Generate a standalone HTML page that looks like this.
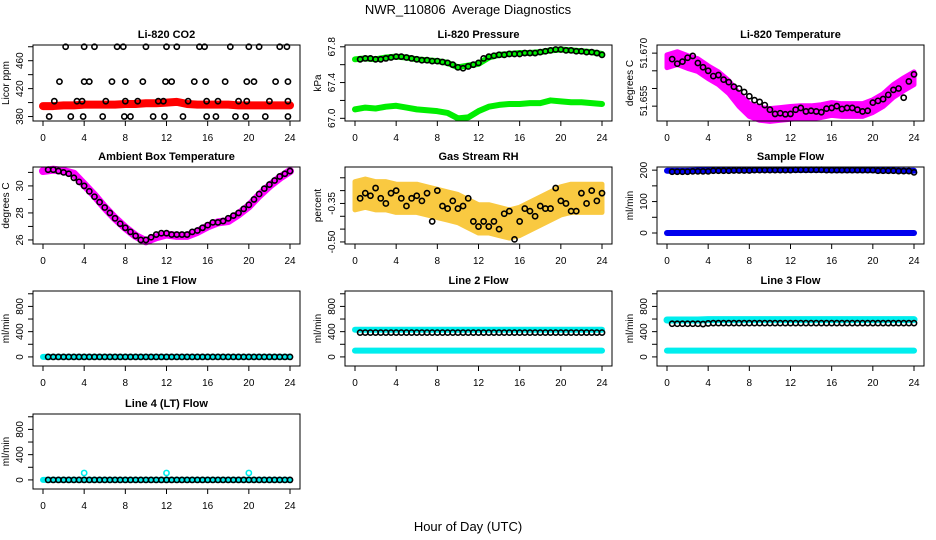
<!DOCTYPE html>
<html><head><meta charset="utf-8">
<style>
body{margin:0;background:#fff;}
svg{display:block;font-family:"Liberation Sans",sans-serif;}
</style></head>
<body>
<svg id="chart" width="936" height="540" xmlns="http://www.w3.org/2000/svg">
<rect width="936" height="540" fill="#fff"/>
<text x="468" y="14" font-size="13" text-anchor="middle" style="white-space:pre">NWR_110806  Average Diagnostics</text>
<text x="468" y="531" font-size="13" text-anchor="middle">Hour of Day (UTC)</text>
</svg>
<script>
// ---- data ----
const hours = [0,1,2,3,4,5,6,7,8,9,10,11,12,13,14,15,16,17,18,19,20,21,22,23,24];
const xTicks = [0,4,8,12,16,20,24];
// CO2
const co2Band = [395,395,396,396,397,397,397,397,398,398,399,399,400,401,398,397,397,397,397,396,396,396,396,396,396];
const co2BlackT = [2.2,4,5,7.2,7.8,10,12,13,15.2,15.7,18.2,20,21,23,23.7, 1.6,4,4.5,6.7,8,9.7,11.9,12.5,14.7,15.8,17.7,19.8,20.5,22.6,23.8, 1.1,3.3,3.8,6.1,8,9.2,11.2,11.7,14.1,15.9,17,19,19.8,22,23.8, 0.6,2.7,3.9,5.8,7.9,8.5,10.7,11.8,13.6,15.9,16.8,18.7,19.7,21.6,23.8];
const co2BlackV = [480,480,480,480,480,480,480,480,480,480,480,480,480,480,480, 430,430,430,430,430,430,430,430,430,430,430,430,430,430,430, 402,402,402,402,402,402,402,402,402,402,402,402,402,402,402, 380,380,380,380,380,380,380,380,380,380,380,380,380,380,380];
// Pressure
const presUpper = [67.66,67.67,67.66,67.68,67.69,67.68,67.66,67.65,67.64,67.62,67.57,67.59,67.61,67.68,67.71,67.72,67.73,67.73,67.74,67.76,67.77,67.76,67.75,67.74,67.72];
const presLower = [67.10,67.12,67.11,67.13,67.14,67.12,67.10,67.09,67.08,67.06,67.00,67.01,67.08,67.13,67.15,67.16,67.16,67.17,67.17,67.20,67.19,67.18,67.18,67.17,67.16];
const presBlack = [67.66,67.67,67.67,67.66,67.66,67.67,67.68,67.69,67.69,67.68,67.67,67.66,67.65,67.65,67.64,67.64,67.63,67.62,67.60,67.57,67.56,67.58,67.60,67.62,67.67,67.69,67.70,67.71,67.71,67.72,67.72,67.72,67.73,67.73,67.73,67.74,67.75,67.76,67.77,67.77,67.76,67.76,67.75,67.75,67.74,67.74,67.73,67.71];
// Li-820 temperature
const tempCenter = [51.6677,51.6686,51.6675,51.6666,51.6646,51.6629,51.6604,51.6567,51.6539,51.6528,51.6525,51.6528,51.6531,51.6533,51.6533,51.6536,51.6542,51.6539,51.6539,51.6539,51.6550,51.6567,51.6593,51.6612,51.6629];
const tempBlack = [51.6683,51.6670,51.6676,51.6687,51.6692,51.6672,51.6660,51.6650,51.6635,51.6638,51.6625,51.6618,51.6605,51.6600,51.6590,51.6578,51.6567,51.6562,51.6553,51.6540,51.6528,51.6530,51.6527,51.6528,51.6540,51.6545,51.6535,51.6537,51.6535,51.6533,51.6543,51.6545,51.6550,51.6542,51.6545,51.6545,51.6540,51.6535,51.6537,51.6560,51.6565,51.6570,51.6582,51.6596,51.6600,51.6574,51.6620,51.6640];
// Ambient box temperature
const ambBand = [31.1,31.2,31.1,30.9,30.1,29.3,28.4,27.6,26.9,26.3,25.9,26.2,26.4,26.3,26.3,26.6,27.0,27.3,27.4,27.9,28.5,29.3,30.0,30.6,31.1];
const ambBlack = [31.2,31.2,31.1,31.0,30.9,30.6,30.3,30.0,29.6,29.2,28.8,28.4,28.0,27.6,27.2,26.9,26.6,26.3,26.0,26.0,26.2,26.4,26.5,26.5,26.4,26.4,26.4,26.4,26.6,26.7,26.9,27.1,27.3,27.3,27.4,27.6,27.8,28.0,28.3,28.6,29.0,29.4,29.8,30.1,30.4,30.7,30.9,31.1];
// Gas stream RH
const rhCenter = [-0.32,-0.31,-0.32,-0.32,-0.33,-0.33,-0.33,-0.34,-0.35,-0.36,-0.37,-0.39,-0.41,-0.41,-0.42,-0.43,-0.42,-0.40,-0.38,-0.36,-0.34,-0.33,-0.33,-0.33,-0.33];
const rhBlack = [-0.33,-0.31,-0.32,-0.29,-0.33,-0.35,-0.31,-0.30,-0.33,-0.36,-0.33,-0.32,-0.34,-0.31,-0.42,-0.30,-0.36,-0.37,-0.34,-0.37,-0.36,-0.33,-0.42,-0.44,-0.42,-0.44,-0.42,-0.45,-0.39,-0.38,-0.49,-0.42,-0.37,-0.38,-0.40,-0.36,-0.37,-0.37,-0.29,-0.34,-0.35,-0.38,-0.38,-0.31,-0.35,-0.30,-0.34,-0.31];
// Flows
const sampleUpper = [198,198,198,199,199,200,200,200,200,201,201,201,201,201,201,201,200,200,200,200,200,199,199,198,198];
const sampleLower = [0,0,0,0,0,0,0,0,0,0,0,0,0,0,0,0,0,0,0,0,0,0,0,0,0];
const sampleBlack = [195,195,195,195,196,196,196,196,198,198,198,198,199,199,199,199,200,200,200,200,200,200,200,200,201,201,201,201,201,201,200,200,200,200,200,200,200,200,200,200,198,198,198,198,197,197,197,193];
const line1Cyan = [0,0,0,0,0,0,0,0,0,0,0,0,0,0,0,0,0,0,0,0,0,0,0,0,0];
const line1Black = [0,0,0,0,0,0,0,0,0,0,0,0,0,0,0,0,0,0,0,0,0,0,0,0,0,0,0,0,0,0,0,0,0,0,0,0,0,0,0,0,0,0,0,0,0,0,0,0];
const line2Upper = [430,430,430,430,430,430,430,430,430,430,430,430,430,430,430,430,430,430,430,430,430,430,430,430,430];
const line2Lower = [100,100,100,100,100,100,100,100,100,100,100,100,100,100,100,100,100,100,100,100,100,100,100,100,100];
const line2Black = [385,385,385,385,385,385,385,385,385,385,385,385,385,385,385,385,385,385,385,385,385,385,385,385,385,385,385,385,385,385,385,385,385,385,385,385,385,385,385,385,385,385,385,385,385,385,385,385];
const line3Upper = [585,585,585,585,590,590,590,590,590,590,590,590,590,590,590,590,590,590,590,590,590,590,590,590,590];
const line3Lower = [100,100,100,100,100,100,100,100,100,100,100,100,100,100,100,100,100,100,100,100,100,100,100,100,100];
const line3Black = [525,525,525,525,525,525,520,530,535,535,535,535,535,535,535,535,535,535,535,535,535,535,535,535,535,535,535,535,535,535,535,535,535,535,535,535,535,535,535,535,535,535,535,535,535,535,535,535];
const line4Cyan = [0,0,0,0,0,0,0,0,0,0,0,0,0,0,0,0,0,0,0,0,0,0,0,0,0];
const line4OutT = [4,12,20];
const line4OutV = [110,110,110];
const line4Black = [0,0,0,0,0,0,0,0,0,0,0,0,0,0,0,0,0,0,0,0,0,0,0,0,0,0,0,0,0,0,0,0,0,0,0,0,0,0,0,0,0,0,0,0,0,0,0,0];

// ---- drawing ----
const svg = document.getElementById('chart');
const NS = 'http://www.w3.org/2000/svg';
function mk(tag, attrs, parent){
  const e = document.createElementNS(NS, tag);
  for (const k in attrs) e.setAttribute(k, attrs[k]);
  (parent||svg).appendChild(e);
  return e;
}
const colL = [33,345,657], rowT = [45,167,291,414], PW = 267;
const rowH = [76,77,75,75];
function panel(cfg){
  const L = colL[cfg.col], T = rowT[cfg.row], H = rowH[cfg.row];
  const g = mk('g', {});
  
  
  const xs = t => L + 10 + t * (PW - 20) / 24;
  const ys = v => T + H - (v - cfg.ymin) / (cfg.ymax - cfg.ymin) * H;
  cfg.xs = xs; cfg.ys = ys; cfg.g = g;
  const tt = mk('text', {x: L + PW/2, y: T - 7, 'font-size': 11, 'font-weight': 'bold', 'text-anchor': 'middle'}, g);
  tt.textContent = cfg.title;
  
  
  cfg.draw(cfg);
  const box = mk('rect', {x: L, y: T, width: PW, height: H, fill: 'none', stroke: '#000', 'stroke-width': 1}, g);
  
  
  xTicks.forEach(t => {
    mk('line', {x1: xs(t), x2: xs(t), y1: T + H, y2: T + H + 5, stroke: '#000'}, g);
    const tx = mk('text', {x: xs(t), y: T + H + 20, 'font-size': 10, 'text-anchor': 'middle'}, g);
    tx.textContent = t;
    
    
  });
  cfg.yTicks.forEach(v => {
    mk('line', {x1: L, x2: L - 5, y1: ys(v), y2: ys(v), stroke: '#000'}, g);
  });
  cfg.yLabels.forEach((lab, i) => {
    const y = ys(cfg.yLabelVals[i]);
    const tx = mk('text', {x: 0, y: 0, 'font-size': 10, 'text-anchor': 'middle', transform: `translate(${L - 10},${y}) rotate(-90)`}, g);
    tx.textContent = lab;
    
    
  });
  const yt = mk('text', {x: 0, y: 0, 'font-size': 10, 'text-anchor': 'middle', transform: `translate(${L - 24},${T + H/2}) rotate(-90)`}, g);
  yt.textContent = cfg.ylab;
  
  
}
function band(cfg, vals, color, w){
  const pts = vals.map((v,i) => cfg.xs(hours[i]) + ',' + cfg.ys(v)).join(' ');
  const p = mk('polyline', {points: pts, fill: 'none', stroke: color, 'stroke-width': w, 'stroke-linecap': 'round', 'stroke-linejoin': 'round'}, cfg.g);
  
  
}
function cloud(cfg, vals, half, color, op){
  const up = vals.map((v,i) => cfg.xs(hours[i]) + ',' + cfg.ys(v + half));
  const dn = vals.map((v,i) => cfg.xs(hours[i]) + ',' + cfg.ys(v - half)).reverse();
  const p = mk('polygon', {points: up.concat(dn).join(' '), fill: color, stroke: color, 'stroke-width': 5, 'stroke-linejoin': 'round', opacity: op}, cfg.g);
  
  
}
function dots(cfg, ts, vals, color){
  vals.forEach((v,i) => {
    const c = mk('circle', {cx: cfg.xs(ts ? ts[i] : 0.5 + i*0.5), cy: cfg.ys(v), r: 2.6, fill: 'none', stroke: color, 'stroke-width': 1.6}, cfg.g);
    
    
  });
}
const flowTicks = [0,200,400,600,800,1000];
panel({name:'co2-panel', col:0,row:0,title:'Li-820 CO2', ylab:'Licor ppm', ymin:373.6, ymax:482.5,
  yTicks:[380,400,420,440,460,480], yLabels:['380','420','460'], yLabelVals:[380,420,460],
  draw:c=>{ band(c, co2Band, '#ff0000', 8); dots(c, co2BlackT, co2BlackV, '#000'); }});
panel({name:'pressure-panel', col:1,row:0,title:'Li-820 Pressure', ylab:'kPa', ymin:66.97, ymax:67.82,
  yTicks:[67.0,67.2,67.4,67.6,67.8], yLabels:['67.0','67.4','67.8'], yLabelVals:[67.0,67.4,67.8],
  draw:c=>{ band(c, presUpper, '#00ee00', 6); band(c, presLower, '#00ee00', 6); dots(c, null, presBlack, '#000'); }});
panel({name:'li820-temperature-panel', col:2,row:0,title:'Li-820 Temperature', ylab:'degrees C', ymin:51.6508, ymax:51.6723,
  yTicks:[51.655,51.660,51.665,51.670], yLabels:['51.670','51.655'], yLabelVals:[51.670,51.6565],
  draw:c=>{ cloud(c, tempCenter, 0.0018, '#ff00ff', 1); dots(c, null, tempBlack, '#000'); }});
panel({name:'ambient-temperature-panel', col:0,row:1,title:'Ambient Box Temperature', ylab:'degrees C', ymin:25.7, ymax:31.4,
  yTicks:[26,27,28,29,30,31], yLabels:['26','28','30'], yLabelVals:[26,28,30],
  draw:c=>{ band(c, ambBand, '#ff00ff', 8); dots(c, null, ambBlack, '#000'); }});
panel({name:'gas-rh-panel', col:1,row:1,title:'Gas Stream RH', ylab:'percent', ymin:-0.508, ymax:-0.208,
  yTicks:[-0.5,-0.45,-0.4,-0.35,-0.3,-0.25], yLabels:['-0.50','-0.35'], yLabelVals:[-0.5,-0.35],
  draw:c=>{ cloud(c, rhCenter, 0.055, '#f8c020', 0.85); dots(c, null, rhBlack, '#000'); }});
panel({name:'sample-flow-panel', col:2,row:1,title:'Sample Flow', ylab:'ml/min', ymin:-35, ymax:210,
  yTicks:[0,50,100,150,200], yLabels:['0','100','200'], yLabelVals:[0,100,200],
  draw:c=>{ band(c, sampleUpper, '#0000ee', 6); band(c, sampleLower, '#0000ee', 6); dots(c, null, sampleBlack, '#000'); }});
panel({name:'line1-flow-panel', col:0,row:2,title:'Line 1 Flow', ylab:'ml/min', ymin:-144, ymax:1044,
  yTicks:flowTicks, yLabels:['0','400','800'], yLabelVals:[0,400,800],
  draw:c=>{ band(c, line1Cyan, '#00eeee', 6); dots(c, null, line1Black, '#000'); }});
panel({name:'line2-flow-panel', col:1,row:2,title:'Line 2 Flow', ylab:'ml/min', ymin:-144, ymax:1044,
  yTicks:flowTicks, yLabels:['0','400','800'], yLabelVals:[0,400,800],
  draw:c=>{ band(c, line2Upper, '#00eeee', 6); band(c, line2Lower, '#00eeee', 6); dots(c, null, line2Black, '#000'); }});
panel({name:'line3-flow-panel', col:2,row:2,title:'Line 3 Flow', ylab:'ml/min', ymin:-144, ymax:1044,
  yTicks:flowTicks, yLabels:['0','400','800'], yLabelVals:[0,400,800],
  draw:c=>{ band(c, line3Upper, '#00eeee', 7); band(c, line3Lower, '#00eeee', 6); dots(c, null, line3Black, '#000'); }});
panel({name:'line4-flow-panel', col:0,row:3,title:'Line 4 (LT) Flow', ylab:'ml/min', ymin:-144, ymax:1044,
  yTicks:flowTicks, yLabels:['0','400','800'], yLabelVals:[0,400,800],
  draw:c=>{ band(c, line4Cyan, '#00eeee', 6); dots(c, line4OutT, line4OutV, '#00eeee'); dots(c, null, line4Black, '#000'); }});
</script>
</body></html>
